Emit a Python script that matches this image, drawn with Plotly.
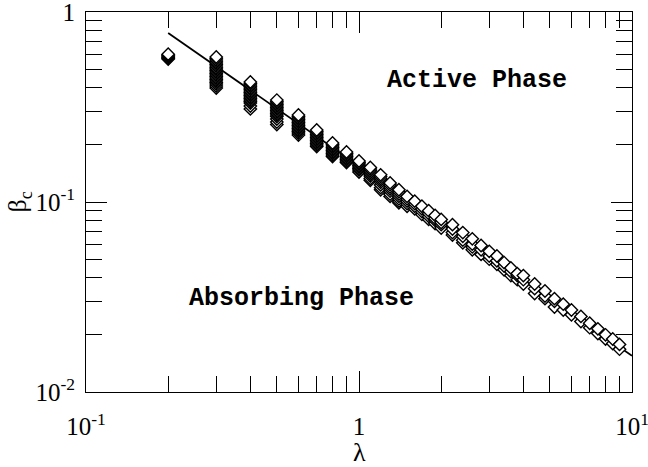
import plotly.graph_objects as go

# ---- data ----
lam_values = [0.2, 0.3, 0.4, 0.5, 0.6, 0.7, 0.8, 0.9, 1.0,
              1.1, 1.2, 1.3, 1.4, 1.5, 1.6, 1.7, 1.8, 1.9, 2.0,
              2.2, 2.4, 2.6, 2.8, 3.0, 3.2, 3.4, 3.6, 3.8, 4.0,
              4.4, 4.8, 5.2, 5.6, 6.0, 6.5, 7.0, 7.5, 8.0, 8.5, 9.0]

beta_by_lam = [
    [0.600, 0.594, 0.588, 0.582, 0.576, 0.571, 0.566],
    [0.580, 0.570, 0.559, 0.548, 0.539, 0.529, 0.519, 0.509, 0.501, 0.492,
     0.483, 0.474, 0.466, 0.457, 0.449, 0.441, 0.434, 0.426, 0.418, 0.408, 0.398],
    [0.428, 0.421, 0.413, 0.406, 0.398, 0.392, 0.384, 0.377, 0.370, 0.364,
     0.357, 0.351, 0.344, 0.338, 0.332, 0.320, 0.309],
    [0.344, 0.338, 0.332, 0.326, 0.320, 0.314, 0.309, 0.303, 0.2976, 0.2922,
     0.2870, 0.2818, 0.2735, 0.2636, 0.2558],
    [0.287, 0.2818, 0.2767, 0.2717, 0.2668, 0.262, 0.2573, 0.2527, 0.2481,
     0.2436, 0.2393, 0.235, 0.2307, 0.2252],
    [0.2393, 0.235, 0.2307, 0.2265, 0.2225, 0.2185, 0.2146, 0.2107, 0.2069,
     0.2031, 0.1995, 0.1959],
    [0.2044, 0.2007, 0.1971, 0.1935, 0.1900, 0.1866, 0.1833, 0.1800, 0.1767, 0.1736],
    [0.1833, 0.1800, 0.1767, 0.1736, 0.1704, 0.1674, 0.1644, 0.1614],
    [0.1644, 0.1614, 0.1585, 0.1557, 0.1528, 0.1501, 0.1474, 0.1438],
    [0.152, 0.149, 0.146, 0.143, 0.140, 0.137, 0.133, 0.130],
    [0.139, 0.136, 0.133, 0.130, 0.127, 0.123, 0.119, 0.116],
    [0.126, 0.123, 0.120, 0.117, 0.114, 0.110, 0.107],
    [0.116, 0.113, 0.110, 0.107, 0.104, 0.101, 0.099],
    [0.107, 0.104, 0.101, 0.098, 0.095],
    [0.101, 0.098, 0.095, 0.092],
    [0.095, 0.092, 0.089, 0.086],
    [0.090, 0.087, 0.084, 0.081],
    [0.085, 0.082, 0.080, 0.077],
    [0.081, 0.078, 0.076, 0.073],
    [0.076, 0.072, 0.069, 0.067],
    [0.069, 0.066, 0.063, 0.061],
    [0.064, 0.060, 0.058, 0.056],
    [0.059, 0.056, 0.053],
    [0.055, 0.052, 0.050],
    [0.052, 0.049, 0.047],
    [0.048, 0.046, 0.044],
    [0.045, 0.043, 0.041],
    [0.042, 0.041, 0.039],
    [0.041, 0.039, 0.037],
    [0.037, 0.035, 0.033],
    [0.034, 0.032, 0.031],
    [0.031, 0.030, 0.028],
    [0.029, 0.027],
    [0.027, 0.0255],
    [0.025, 0.0235],
    [0.023, 0.0218],
    [0.0215, 0.0203],
    [0.020, 0.019],
    [0.019, 0.018],
    [0.0178, 0.0168],
]

fit_lam = [0.2, 10.0]
fit_beta = [0.775, 0.0155]

x_tickvals = [0.1, 1, 10]
x_ticktext = ["10<sup>-1</sup>", "1", "10<sup>1</sup>"]
y_tickvals = [0.01, 0.1, 1]
y_ticktext = ["10<sup>-2</sup>", "10<sup>-1</sup>", "1"]
x_minor = [0.2, 0.3, 0.4, 0.5, 0.6, 0.7, 0.8, 0.9, 2, 3, 4, 5, 6, 7, 8, 9]
y_minor = [0.02, 0.03, 0.04, 0.05, 0.06, 0.07, 0.08, 0.09,
           0.2, 0.3, 0.4, 0.5, 0.6, 0.7, 0.8, 0.9]

# flatten: draw lower points first so the top one of each column is on top
px, py = [], []
for lam, betas in zip(lam_values, beta_by_lam):
    for b in reversed(betas):
        px.append(lam)
        py.append(b)

fig = go.Figure()
fig.add_trace(go.Scatter(
    x=fit_lam, y=fit_beta, mode="lines",
    line=dict(color="black", width=1.8), showlegend=False))
fig.add_trace(go.Scatter(
    x=px, y=py, mode="markers",
    marker=dict(symbol="diamond", size=9.5, color="white",
                line=dict(color="black", width=1.4)),
    showlegend=False))

serif = "Liberation Serif, Times New Roman, serif"
mono = "Courier New, Liberation Mono, monospace"

axis_common = dict(
    type="log", showgrid=False, zeroline=False, automargin=False,
    showline=True, linecolor="black", linewidth=1, mirror="ticks",
    ticks="inside", ticklen=21, tickwidth=1, tickcolor="black",
    tickfont=dict(family=serif, size=25, color="black"),
    tickmode="array", ticklabeloverflow="allow",
)

fig.update_xaxes(
    **axis_common, range=[-1, 1],
    tickvals=x_tickvals, ticktext=x_ticktext, ticklabelstandoff=12,
    minor=dict(tickmode="array", tickvals=x_minor, ticks="inside",
               ticklen=16, tickwidth=1, tickcolor="black", showgrid=False),
)
fig.update_yaxes(
    **axis_common, range=[-2, 0],
    tickvals=y_tickvals, ticktext=y_ticktext, ticklabelstandoff=5,
    minor=dict(tickmode="array", tickvals=y_minor, ticks="inside",
               ticklen=16, tickwidth=1, tickcolor="black", showgrid=False),
)

# axis titles
fig.add_annotation(x=0.5, y=-0.16, xref="paper", yref="paper",
                   xanchor="center", yanchor="middle", text="λ", showarrow=False,
                   font=dict(family=serif, size=26, color="black"))
fig.add_annotation(x=-0.122, y=0.5, xref="paper", yref="paper",
                   xanchor="center", yanchor="middle", textangle=-90,
                   text="β<sub>c</sub>", showarrow=False,
                   font=dict(family=serif, size=26, color="black"))

fig.add_annotation(x=0.716, y=0.821, xref="paper", yref="paper",
                   xanchor="center", yanchor="middle",
                   text="<b>Active Phase</b>", showarrow=False,
                   font=dict(family=mono, size=25, color="black"))
fig.add_annotation(x=0.394, y=0.247, xref="paper", yref="paper",
                   xanchor="center", yanchor="middle",
                   text="<b>Absorbing Phase</b>", showarrow=False,
                   font=dict(family=mono, size=25, color="black"))

fig.update_layout(
    width=648, height=467,
    margin=dict(l=86, r=16, t=12, b=75),
    paper_bgcolor="white", plot_bgcolor="white",
    showlegend=False,
)

fig.write_html("out.html")
